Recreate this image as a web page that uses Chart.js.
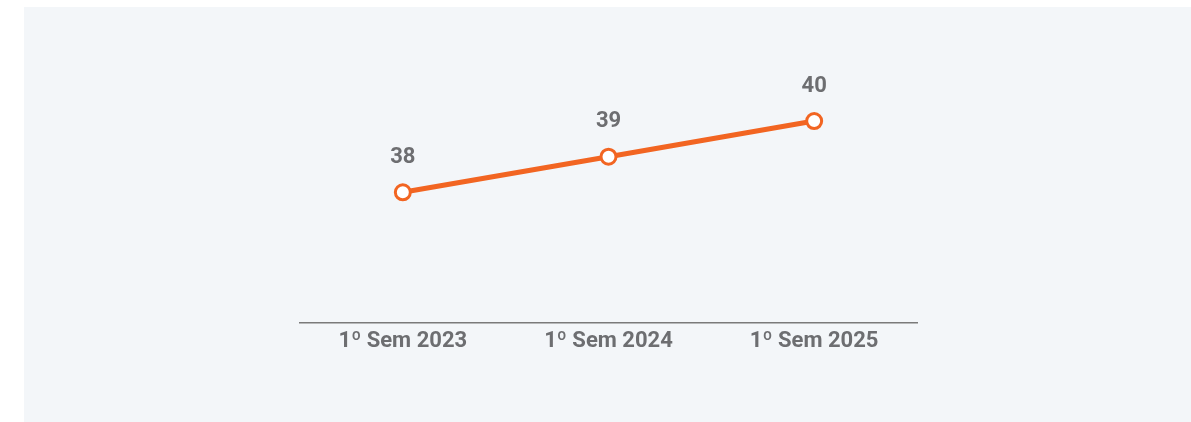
<!DOCTYPE html>
<html>
<head>
<meta charset="utf-8">
<script src="https://cdn.jsdelivr.net/npm/chart.js@4.4.1/dist/chart.umd.min.js"></script>
<style>
  html, body { margin: 0; padding: 0; background: #ffffff; }
  #panel {
    position: absolute;
    left: 24px;
    top: 7px;
    width: 1167px;
    height: 415px;
    background: #f3f6f9;
  }
</style>
</head>
<body>
<div id="panel"><canvas id="chart" width="1167" height="415"></canvas></div>
<script>
// chart data
const periods = ["1º Sem 2023", "1º Sem 2024", "1º Sem 2025"];
const values = [38, 39, 40];

const ORANGE = "#f26522";
const GREY = "#6d6e71";

// draws the value above each point (no datalabels plugin available)
const valueLabels = {
  id: "valueLabels",
  afterDatasetsDraw(chart) {
    const ctx = chart.ctx;
    const meta = chart.getDatasetMeta(0);
    ctx.save();
    ctx.font = "bold 22px Roboto";
    ctx.fillStyle = GREY;
    ctx.textAlign = "center";
    ctx.textBaseline = "middle";
    meta.data.forEach((pt, i) => {
      ctx.fillText(String(values[i]), pt.x, pt.y - 35);
    });
    ctx.restore();
  },
};

new Chart(document.getElementById("chart"), {
  type: "line",
  data: {
    labels: periods,
    datasets: [{
      data: values,
      borderColor: ORANGE,
      borderWidth: 5,
      backgroundColor: "#ffffff",
      pointBackgroundColor: "#ffffff",
      pointBorderColor: ORANGE,
      pointBorderWidth: 3,
      pointRadius: 7.5,
      pointHoverRadius: 7.5,
      tension: 0,
      fill: false,
    }],
  },
  options: {
    responsive: false,
    animation: false,
    layout: {
      padding: { left: 276, right: 274, top: 40, bottom: 61 },
    },
    plugins: {
      legend: { display: false },
      tooltip: { enabled: false },
    },
    scales: {
      x: {
        offset: true,
        grid: { display: false, drawTicks: false },
        border: { display: true, color: "#7a7a7a", width: 1.5 },
        ticks: {
          color: GREY,
          padding: 6,
          font: { family: "Roboto", size: 22, weight: "bold" },
          maxRotation: 0,
        },
      },
      y: {
        display: false,
        min: 34.34,
        max: 42.08,
      },
    },
  },
  plugins: [valueLabels],
});
</script>
</body>
</html>
